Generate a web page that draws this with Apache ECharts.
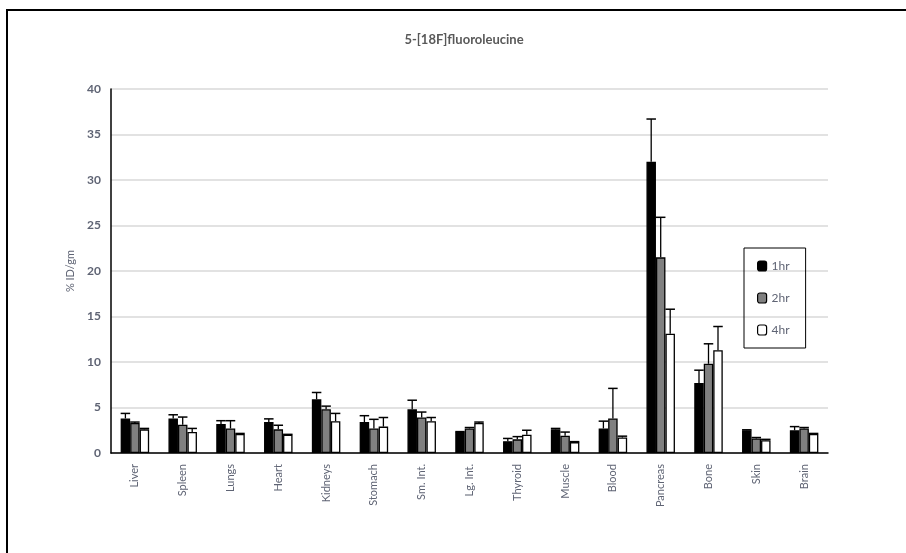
<!DOCTYPE html>
<html>
<head>
<meta charset="utf-8">
<script src="https://cdn.jsdelivr.net/npm/echarts@6/dist/echarts.min.js"></script>
<style>
  html, body { margin: 0; padding: 0; background: #fff; }
  #chart { width: 906px; height: 553px; }
</style>
</head>
<body>
<div id="chart"></div>
<script>
// organs on the x axis
var organs = ['Liver', 'Spleen', 'Lungs', 'Heart', 'Kidneys', 'Stomach', 'Sm. Int.', 'Lg. Int.',
              'Thyroid', 'Muscle', 'Blood', 'Pancreas', 'Bone', 'Skin', 'Brain'];
var seriesNames = ['1hr', '2hr', '4hr'];

// %ID/gm per time point
var hr1 = [3.8, 3.8, 3.2, 3.4, 5.9, 3.4, 4.8, 2.3, 1.3, 2.6, 2.7, 32.0, 7.7, 2.5, 2.5];
var hr2 = [3.3, 3.1, 2.7, 2.6, 4.8, 2.7, 3.9, 2.7, 1.5, 1.9, 3.8, 21.5, 9.8, 1.6, 2.7];
var hr4 = [2.6, 2.3, 2.1, 2.0, 3.5, 2.9, 3.5, 3.3, 2.0, 1.2, 1.7, 13.1, 11.3, 1.4, 2.1];

// upper error (SD) per time point
var err1 = [0.55, 0.4, 0.35, 0.35, 0.75, 0.7, 1.0, 0.05, 0.3, 0.1, 0.8, 4.7, 1.4, 0.05, 0.4];
var err2 = [0.1, 0.85, 0.85, 0.45, 0.35, 1.0, 0.6, 0.1, 0.3, 0.4, 3.3, 4.4, 2.2, 0.1, 0.1];
var err4 = [0.1, 0.4, 0.05, 0.05, 0.85, 1.0, 0.4, 0.1, 0.5, 0.05, 0.15, 2.7, 2.6, 0.1, 0.05];

var yTicks = [0, 5, 10, 15, 20, 25, 30, 35, 40];

var FONT = "Lato, 'Open Sans', sans-serif";
var TXT = '#5f6474';
var BAR_W = 9.5;

var values = [hr1, hr2, hr4];
var errors = [err1, err2, err4];
var fills = ['#000000', '#808080', '#ffffff'];

var myChart = echarts.init(document.getElementById('chart'));

var series = [];
// bars
for (var i = 0; i < 3; i++) {
  series.push({
    name: seriesNames[i],
    type: 'bar',
    data: values[i],
    barWidth: BAR_W,
    barGap: '0%',
    itemStyle: { color: fills[i], borderColor: '#000', borderWidth: 1.3 },
    z: 2
  });
}
// error bars (plus only)
for (var j = 0; j < 3; j++) {
  (function (k) {
    var d = values[k].map(function (v, idx) { return [idx, v, v + errors[k][idx]]; });
    series.push({
      type: 'custom',
      name: seriesNames[k],
      data: d,
      z: 3,
      encode: { x: 0, y: [1, 2] },
      renderItem: function (params, api) {
        var idx = api.value(0);
        var lo = api.coord([idx, api.value(1)]);
        var hi = api.coord([idx, api.value(2)]);
        var x = lo[0] + (k - 1) * BAR_W;
        var half = BAR_W / 2;
        return {
          type: 'group',
          children: [
            { type: 'line', shape: { x1: x, y1: lo[1], x2: x, y2: hi[1] }, style: { stroke: '#000', lineWidth: 1.3 } },
            { type: 'line', shape: { x1: x - half, y1: hi[1], x2: x + half, y2: hi[1] }, style: { stroke: '#000', lineWidth: 1.5 } }
          ]
        };
      }
    });
  })(j);
}

var option = {
  animation: false,
  backgroundColor: '#fff',
  title: {
    text: '5-[18F]fluoroleucine',
    left: 459, top: 28, textAlign: 'center',
    textStyle: { fontFamily: FONT, fontSize: 13, fontWeight: 'bold', color: '#595959' }
  },
  graphic: [{
    type: 'rect',
    shape: { x: 7, y: 10, width: 1000, height: 1000 },
    style: { fill: 'none', stroke: '#000', lineWidth: 2 },
    silent: true
  }],
  legend: {
    orient: 'vertical',
    left: 744, top: 248,
    data: seriesNames,
    itemWidth: 9, itemHeight: 10, itemGap: 20,
    padding: [12, 16, 12, 13],
    borderColor: '#000', borderWidth: 1,
    textStyle: { fontFamily: FONT, fontSize: 12, color: TXT },
    itemStyle: { borderColor: '#000', borderWidth: 1.2 }
  },
  grid: { left: 111, right: 78, top: 89, bottom: 100, containLabel: false },
  xAxis: {
    type: 'category',
    data: organs,
    axisLine: { lineStyle: { color: '#000', width: 1.5 } },
    axisTick: { show: false },
    axisLabel: { rotate: 90, interval: 0, margin: 11, fontFamily: FONT, fontSize: 11, color: TXT }
  },
  yAxis: {
    type: 'value',
    min: yTicks[0], max: yTicks[yTicks.length - 1], interval: 5,
    name: '% ID/gm',
    nameLocation: 'middle',
    nameGap: 33,
    nameTextStyle: { fontFamily: FONT, fontSize: 11, color: TXT },
    axisLine: { show: true, lineStyle: { color: '#000', width: 1.5 } },
    axisTick: { show: false },
    axisLabel: { margin: 10, fontFamily: FONT, fontSize: 12, fontWeight: 'bold', color: TXT },
    splitLine: { lineStyle: { color: '#d9d9d9', width: 1.5 } }
  },
  series: series
};

myChart.setOption(option, true);
</script>
</body>
</html>
